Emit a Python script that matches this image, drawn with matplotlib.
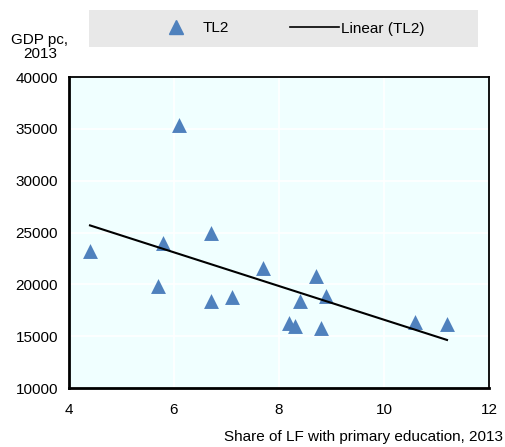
import numpy as np
import matplotlib
matplotlib.use("Agg")
import matplotlib.pyplot as plt
from matplotlib.lines import Line2D
from matplotlib.patches import Rectangle

plt.rcParams['font.family'] = ['Liberation Sans', 'DejaVu Sans']

# Share of labour force with primary education (%) and GDP per capita, TL2 regions, 2013
share_primary = [4.4, 5.7, 5.8, 6.1, 6.7, 6.7, 7.1, 7.7, 8.2, 8.3, 8.4, 8.7, 8.8, 8.9, 10.6, 11.2]
gdp_pc = [23200, 19800, 24000, 35400, 25000, 18400, 18800, 21600, 16300, 16000, 18400, 20800, 15800, 18900, 16400, 16200]

x_ticks = [4, 6, 8, 10, 12]
y_ticks = [10000, 15000, 20000, 25000, 30000, 35000, 40000]

FS = 11

fig = plt.figure(figsize=(5.06, 4.47), dpi=100)
ax = fig.add_axes([69 / 506, 1 - 388 / 447, 420 / 506, 311 / 447])
ax.set_facecolor('#F0FFFF')

blue = '#4F81BD'
ax.scatter(share_primary, gdp_pc, marker='^', s=115, color=blue, zorder=3, linewidths=0)

# least-squares linear trend over the observed range
slope, intercept = np.polyfit(share_primary, gdp_pc, 1)
xs = np.array([min(share_primary), max(share_primary)])
ax.plot(xs, slope * xs + intercept, color='black', lw=1.5, zorder=4)

ax.set_xlim(4, 12)
ax.set_ylim(10000, 40000)
ax.set_xticks(x_ticks)
ax.set_yticks(y_ticks)
ax.grid(True, color='white', lw=1.2)
ax.set_axisbelow(True)
ax.tick_params(length=0, labelsize=FS, pad=8)
ax.tick_params(axis='x', pad=11)
for side in ['left', 'bottom']:
    ax.spines[side].set_linewidth(2)
for side in ['right', 'top']:
    ax.spines[side].set_linewidth(1.3)

fig.text(40 / 506, 1 - 47 / 447, 'GDP pc,\n2013', ha='center', va='center',
         fontsize=FS, linespacing=1.05)
fig.text(503 / 506, 1 - 437 / 447, 'Share of LF with primary education, 2013',
         ha='right', va='center', fontsize=FS)

# grey legend band
fig.patches.append(Rectangle((89 / 506, 1 - 47 / 447), 389 / 506, 37 / 447,
                             transform=fig.transFigure, facecolor='#E8E8E8',
                             edgecolor='none', zorder=0))

handles = [Line2D([], [], marker='^', color=blue, ls='none', markersize=10),
           Line2D([], [], color='black', lw=1.2)]
leg = fig.legend(handles, ['TL2', 'Linear (TL2)'], loc='center',
                 bbox_to_anchor=(288 / 506, 1 - 28.5 / 447), ncol=2,
                 frameon=False, fontsize=FS, handlelength=3.2, columnspacing=4.0,
                 handletextpad=0.15)

fig.savefig('out.png', dpi=100)
